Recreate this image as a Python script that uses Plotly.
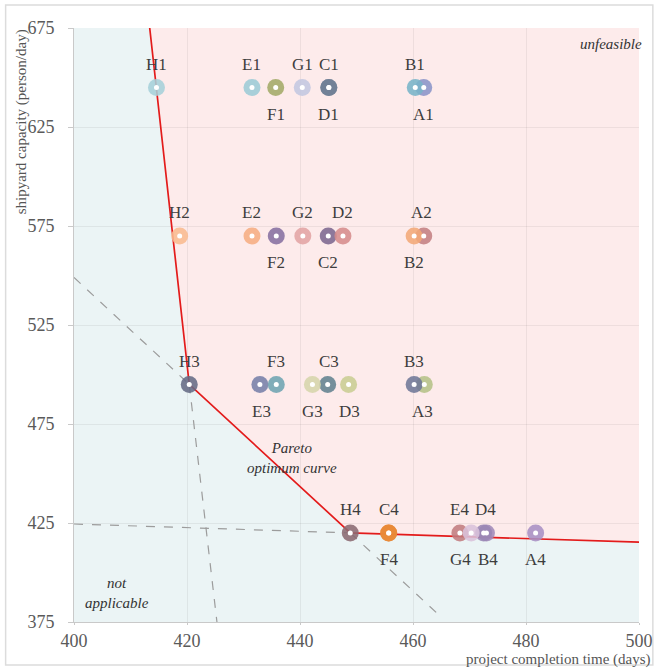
import plotly.graph_objects as go

# Shipyard capacity levels (person/day), one per scenario row 1..4
capacity = [645, 570, 495, 420]

# Project completion time (days) for each alternative A..H at rows 1..4
a_days = [461.9, 461.9, 462.0, 481.7]
b_days = [460.4, 460.2, 460.2, 473.0]
c_days = [445.1, 445.0, 444.9, 455.7]
d_days = [445.1, 447.6, 448.6, 472.5]
e_days = [431.5, 431.5, 432.9, 468.3]
f_days = [435.7, 435.8, 435.8, 455.7]
g_days = [440.4, 440.5, 442.2, 470.3]
h_days = [414.6, 418.7, 420.4, 448.9]

# Marker colours per alternative and row
a_colors = ["#8a94c8", "#c47f82", "#b5c187", "#a98fc4"]
b_colors = ["#78b4c8", "#f2a878", "#6f7897", "#a08ab8"]
c_colors = ["#7a8aa0", "#7d6890", "#62828f", "#e8822e"]
d_colors = ["#6e7e94", "#d68c8c", "#c9cd93", "#9a86b5"]
e_colors = ["#9ccbd6", "#f6ad82", "#7680a8", "#c27c80"]
f_colors = ["#a3aa68", "#8670a0", "#6ea4b2", "#e88a38"]
g_colors = ["#c3c7e0", "#e2a4a4", "#d6d5ab", "#d9c2db"]
h_colors = ["#a6d0da", "#f9bb90", "#656b85", "#8b6a72"]

# Label placement: 1 = above the marker, -1 = below; plus horizontal nudge in px
a_side = [-1, 1, -1, -1]
b_side = [1, -1, 1, -1]
c_side = [1, -1, 1, 1]
d_side = [-1, 1, -1, 1]
e_side = [1, 1, -1, 1]
f_side = [-1, -1, 1, -1]
g_side = [1, 1, -1, -1]
h_side = [1, 1, 1, 1]
a_nudge = [0, -2, -2, 0]
b_nudge = [0, 0, 0, 2]
c_nudge = [0, 0, 1, 0]
d_nudge = [0, 0, 1, 2]
e_nudge = [0, 0, 2, 0]
f_nudge = [0, 0, 0, 0]
g_nudge = [0, 0, 0, -11]
h_nudge = [0, 0, 0, 0]

# Pareto optimum curve vertices
pareto_days = [413.4, 420.4, 448.9, 500.0]
pareto_capacity = [675.0, 495.0, 420.0, 415.3]

# Dashed extensions of the Pareto segments
ext_days = [[420.4, 425.3], [400.0, 420.4], [448.9, 464.8], [400.0, 448.9]]
ext_capacity = [[495.0, 375.0], [549.0, 495.0], [420.0, 378.0], [424.5, 420.0]]

x_range = [400, 500]
y_range = [375, 675]
x_ticks = [400, 420, 440, 460, 480, 500]
y_ticks = [375, 425, 475, 525, 575, 625, 675]

letters = ["A", "B", "C", "D", "E", "F", "G", "H"]
days_by = [a_days, b_days, c_days, d_days, e_days, f_days, g_days, h_days]
colors_by = [a_colors, b_colors, c_colors, d_colors, e_colors, f_colors, g_colors, h_colors]
side_by = [a_side, b_side, c_side, d_side, e_side, f_side, g_side, h_side]
nudge_by = [a_nudge, b_nudge, c_nudge, d_nudge, e_nudge, f_nudge, g_nudge, h_nudge]

SERIF = "Liberation Serif"

fig = go.Figure()

# Unfeasible region: everything above / right of the Pareto curve
path = "M " + " L ".join(f"{x},{y}" for x, y in zip(pareto_days, pareto_capacity))
path += f" L {x_range[1]},{y_range[1]} Z"
fig.add_shape(type="path", path=path, xref="x", yref="y",
              fillcolor="#fdebeb", line=dict(width=0), layer="below")

# Dashed segment extensions
for xs, ys in zip(ext_days, ext_capacity):
    fig.add_trace(go.Scatter(x=xs, y=ys, mode="lines", hoverinfo="skip",
                             line=dict(color="#9c9c9c", width=1.2, dash="dash"),
                             showlegend=False))

# Pareto curve
fig.add_trace(go.Scatter(x=pareto_days, y=pareto_capacity, mode="lines",
                         line=dict(color="#e31b1b", width=1.7),
                         showlegend=False, hoverinfo="skip"))

# Alternatives as ring markers
all_x, all_y = [], []
for letter, days, cols in zip(letters, days_by, colors_by):
    fig.add_trace(go.Scatter(
        x=days, y=capacity, mode="markers", name=letter,
        marker=dict(size=17, color=cols, opacity=0.88, line=dict(width=0)),
        showlegend=False,
    ))
    all_x += days
    all_y += capacity

fig.add_trace(go.Scatter(x=all_x, y=all_y, mode="markers",
                         marker=dict(size=5, color="white", line=dict(width=0)),
                         showlegend=False, hoverinfo="skip"))

# Point labels
for letter, days, sides, nudges in zip(letters, days_by, side_by, nudge_by):
    for i, (x, y) in enumerate(zip(days, capacity)):
        fig.add_annotation(
            x=x, y=y, text=f"{letter}{i + 1}", showarrow=False,
            xshift=nudges[i], yshift=23 if sides[i] > 0 else -27,
            font=dict(family=SERIF, size=17, color="#3d3d3d"),
        )


def caption(x, y, text, size=15, color="#333", angle=0):
    fig.add_annotation(xref="paper", yref="paper", x=x, y=y, text=text,
                       showarrow=False, xanchor="center", yanchor="middle",
                       textangle=angle,
                       font=dict(family=SERIF, size=size, color=color))


# Region / curve captions
caption(0.951, 0.973, "<i>unfeasible</i>")
caption(0.076, 0.049, "<i>not<br>applicable</i>")
caption(0.386, 0.276, "<i>Pareto<br>optimum curve</i>")

# Axis titles
caption(-0.093, 0.842, "shipyard capacity (person/day)", size=15, color="#555", angle=-90)
caption(0.858, -0.063, "project completion time (days)", size=15, color="#555")

# Outer frame
fig.add_shape(type="rect", xref="paper", yref="paper",
              x0=-0.121, x1=1.0245, y0=-0.0724, y1=1.0387,
              line=dict(color="#dcdcdc", width=1.5), fillcolor="rgba(0,0,0,0)",
              layer="below")

axis_common = dict(
    showgrid=True, gridcolor="rgba(0,0,0,0.06)", gridwidth=1,
    zeroline=False, showline=True, linecolor="#c9c9c9", linewidth=1,
    tickcolor="#c9c9c9",
    tickfont=dict(family=SERIF, size=18, color="#5a5a5a"),
)
fig.update_xaxes(range=x_range, tickvals=x_ticks, ticks="outside", ticklen=2,
                 ticklabelstandoff=0, **axis_common)
fig.update_yaxes(range=y_range, tickvals=y_ticks, ticks="outside", ticklen=5,
                 ticklabelstandoff=10, **axis_common)

fig.update_layout(
    width=665, height=670,
    margin=dict(l=74, r=19, t=28, b=48),
    paper_bgcolor="white", plot_bgcolor="#ebf4f5",
    showlegend=False,
)

fig.write_html("out.html")
